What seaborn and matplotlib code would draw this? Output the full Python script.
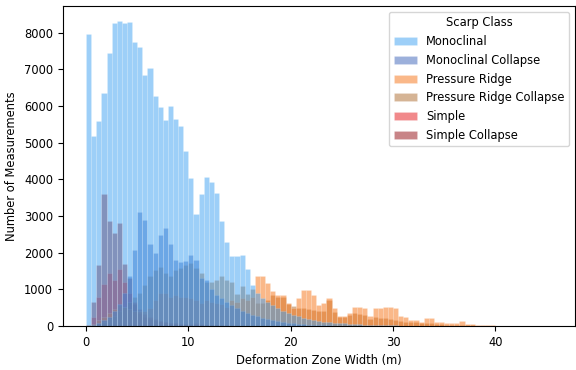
import numpy as np
import pandas as pd
import matplotlib
matplotlib.use("Agg")
import matplotlib.pyplot as plt
import seaborn as sns

# Histogram counts per 0.5 m width bin (bins start at 0 m)
BIN_WIDTH = 0.5

monoclinal = [
    7950, 5170, 5580, 6350, 7440, 8250, 8310, 8260, 8280, 7740,
    7600, 6830, 7030, 6280, 5960, 5620, 6010, 5650, 5440, 4780,
    4030, 3040, 3590, 4060, 3930, 3620, 2850, 2300, 1910, 1910,
    1940, 1550, 1120, 900, 760, 650, 560, 480, 420, 360,
    300, 260, 220, 190, 160, 140, 120, 100, 90, 80,
    70, 60, 50, 45, 40, 35, 30, 25, 20, 18,
    15, 12, 10, 8, 6, 5, 4, 3, 3, 2,
    2, 2, 1, 1, 1, 1, 1, 0, 0, 0,
    0, 0, 0, 0, 0, 0, 0, 0, 0, 0, 0,
]

monoclinal_collapse = [
    10, 40, 80, 150, 250, 400, 600, 900, 1350, 2075,
    3100, 2890, 2240, 2000, 2480, 2660, 2230, 1810, 1750, 1760,
    1940, 1790, 1300, 1250, 1000, 850, 750, 650, 560, 480,
    420, 360, 300, 260, 220, 190, 160, 130, 110, 90,
    75, 60, 50, 40, 32, 25, 20, 15, 12, 10,
    8, 6, 5, 4, 3, 2, 2, 1, 1, 1,
    0, 0, 0, 0, 0, 0, 0, 0, 0, 0,
    0, 0, 0, 0, 0, 0, 0, 0, 0, 0,
    0, 0, 0, 0, 0, 0, 0, 0, 0, 0, 0,
]

pressure_ridge = [
    20, 60, 150, 250, 350, 450, 570, 520, 460, 420,
    400, 420, 500, 700, 890, 890, 800, 850, 800, 800,
    750, 700, 620, 710, 650, 620, 600, 530, 700, 650,
    750, 700, 800, 1350, 1350, 1165, 940, 850, 850, 620,
    480, 760, 980, 980, 850, 570, 620, 760, 480, 260,
    260, 350, 510, 530, 480, 260, 480, 480, 510, 510,
    500, 260, 255, 164, 164, 118, 210, 210, 118, 118,
    90, 73, 73, 137, 45, 45, 27, 27, 18, 18,
    9, 6, 5, 4, 3, 3, 2, 2, 1, 1, 1,
]

pressure_ridge_collapse = [
    5, 20, 50, 100, 180, 280, 400, 520, 650, 800,
    900, 1120, 1350, 1530, 1620, 1440, 1350, 1530, 1580, 1670,
    1710, 1580, 1450, 1210, 1210, 1250, 1350, 1260, 1210, 880,
    1090, 870, 1000, 620, 620, 700, 850, 800, 780, 600,
    540, 500, 480, 450, 430, 400, 420, 700, 380, 250,
    240, 300, 350, 330, 300, 200, 250, 230, 220, 180,
    150, 130, 120, 110, 100, 90, 80, 70, 60, 50,
    40, 35, 30, 25, 20, 15, 12, 10, 8, 6,
    5, 4, 3, 2, 2, 1, 1, 0, 0, 0, 0,
]

simple = [
    40, 250, 800, 1150, 1440, 1250, 1550, 1200, 900, 650,
    450, 330, 250, 180, 140, 110, 90, 75, 60, 50,
    60, 70, 60, 40, 30, 25, 20, 15, 12, 10,
    8, 6, 5, 4, 3, 2, 2, 1, 1, 1,
] + [0] * 51

simple_collapse = [
    0, 660, 1665, 3600, 2850, 2530, 2820, 1690, 1300, 600,
    350, 250, 200, 160, 130, 110, 90, 70, 60, 50,
    40, 35, 30, 25, 20, 15, 12, 10, 8, 6,
    5, 4, 3, 2, 2, 1, 1, 1, 0, 0,
] + [0] * 51

classes = ["Monoclinal", "Monoclinal Collapse", "Pressure Ridge",
           "Pressure Ridge Collapse", "Simple", "Simple Collapse"]
class_colors = ["#3DA0F2", "#3B63B9", "#F77315", "#AD6B2D", "#E51519", "#930B11"]

counts = [monoclinal, monoclinal_collapse, pressure_ridge,
          pressure_ridge_collapse, simple, simple_collapse]

n_bins = len(monoclinal)
centers = (np.arange(n_bins) + 0.5) * BIN_WIDTH

frames = []
for name, c in zip(classes, counts):
    frames.append(pd.DataFrame({"width": centers, "count": c, "Scarp Class": name}))
df = pd.concat(frames, ignore_index=True)

plt.rcParams["font.family"] = ["DejaVu Sans"]
plt.rcParams["font.size"] = 8.3

fig, ax = plt.subplots(figsize=(5.76, 3.70), dpi=100)
fig.subplots_adjust(left=0.109, right=0.998, top=0.984, bottom=0.119)

sns.histplot(
    data=df, x="width", weights="count", hue="Scarp Class",
    hue_order=classes, palette=dict(zip(classes, class_colors)),
    binwidth=BIN_WIDTH, binrange=(0, n_bins * BIN_WIDTH),
    alpha=0.5, edgecolor=(1, 1, 1, 0.25), linewidth=0.4, ax=ax,
)

sns.move_legend(ax, "upper right")
ax.set_xlabel("Deformation Zone Width (m)")
ax.set_ylabel("Number of Measurements")

fig.savefig("out.png", dpi=100)
